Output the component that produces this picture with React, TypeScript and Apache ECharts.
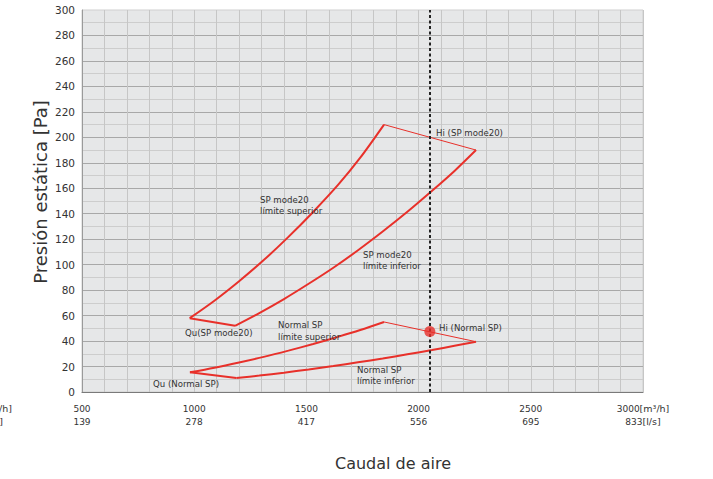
import React, { useEffect, useRef } from "react";
import * as echarts from "echarts";

// Airflow [m³/h] and static pressure [Pa]
const spSupQ = [980, 1090, 1200, 1310, 1420, 1530, 1640, 1740, 1846];
const spSupP = [58, 71.7, 87, 103.6, 121.8, 141.4, 162.4, 184, 210];
const spQuQ = [980, 1182];
const spQuP = [58, 52];
const spInfQ = [1182, 1290, 1400, 1510, 1620, 1730, 1840, 1950, 2060, 2160, 2256];
const spInfP = [52, 62, 73, 85, 97.6, 111.3, 126, 141.5, 158, 173.6, 190];
const spHiQ = [1846, 2256];
const spHiP = [210, 190];

const nSupQ = [981, 1090, 1200, 1310, 1420, 1530, 1640, 1740, 1846];
const nSupP = [15.5, 19.1, 23.2, 27.6, 32.5, 37.7, 43.3, 48.7, 55];
const nQuQ = [981, 1188];
const nQuP = [15.5, 11];
const nInfQ = [1188, 1290, 1400, 1510, 1620, 1730, 1840, 1950, 2060, 2160, 2256];
const nInfP = [11, 12.9, 15.2, 17.7, 20.4, 23.3, 26.3, 29.6, 33, 36.3, 39.5];
const nHiQ = [1846, 2256];
const nHiP = [55, 39.5];

const hiPointQ = [2050];
const hiPointP = [47.5];
const operatingQ = 2050;

const xTicks = [500, 1000, 1500, 2000, 2500, 3000];
const lsTicks = ["139", "278", "417", "556", "695", "833"];

const RED = "#e8302a";
const FONT = "DejaVu Sans";

const zip = (a: number[], b: number[]) => a.map((v, i) => [v, b[i]]);

export default function App() {
  const ref = useRef<HTMLDivElement>(null);
  useEffect(() => {
    document.body.style.margin = "0";
    const chart = echarts.init(ref.current!, null, { renderer: "svg" });
    const line = (name: string, q: number[], p: number[], w: number) => ({
      name,
      type: "line",
      data: zip(q, p),
      smooth: q.length > 2 ? 0.3 : false,
      showSymbol: false,
      symbol: "none",
      lineStyle: { color: RED, width: w },
      z: 3,
    });
    const ann = (text: string, x: number, y: number) => ({
      type: "text",
      x,
      y,
      style: { text, font: `8.6px "${FONT}"`, fill: "#333", textVerticalAlign: "middle" },
      z: 10,
    });
    chart.setOption({
      animation: false,
      textStyle: { fontFamily: FONT },
      grid: {
        left: 82,
        right: 70,
        top: 10,
        bottom: 87,
        show: true,
        backgroundColor: "#e6e7e8",
        borderColor: "#cfcfcf",
        borderWidth: 1,
      },
      xAxis: {
        type: "value",
        min: 500,
        max: 3000,
        interval: 500,
        axisLine: { show: true, lineStyle: { color: "#7a7a7a", width: 1.2 } },
        axisTick: { show: false },
        minorTick: { show: false, splitNumber: 5 },
        splitLine: { show: true, lineStyle: { color: "#c6c6c6", width: 1 } },
        minorSplitLine: { show: true, lineStyle: { color: "#c6c6c6", width: 1 } },
        axisLabel: {
          margin: 10,
          fontSize: 9,
          lineHeight: 13,
          color: "#333",
          fontFamily: FONT,
          showMinLabel: true,
          showMaxLabel: true,
          formatter: (v: number) => {
            const i = xTicks.indexOf(v);
            if (i < 0) return "";
            if (i === xTicks.length - 1) return `${v}{u|[m³/h]}\n${lsTicks[i]}{u|[l/s]}`;
            return `${v}\n${lsTicks[i]}`;
          },
          rich: { u: { fontSize: 9.5, color: "#333", fontFamily: FONT } },
        },
      },
      yAxis: {
        type: "value",
        min: 0,
        max: 300,
        interval: 20,
        axisLine: { show: true, lineStyle: { color: "#9a9a9a", width: 1 } },
        axisTick: { show: false },
        minorTick: { show: false, splitNumber: 2 },
        splitLine: { show: true, showMaxLine: false, lineStyle: { color: "#a8a8a8", width: 1 } },
        minorSplitLine: { show: true, lineStyle: { color: "#cdcdcd", width: 1 } },
        axisLabel: { margin: 7, fontSize: 10.5, color: "#333", fontFamily: FONT },
      },
      series: [
        line("SP mode20 límite superior", spSupQ, spSupP, 2),
        line("Qu(SP mode20)", spQuQ, spQuP, 2),
        line("SP mode20 límite inferior", spInfQ, spInfP, 2),
        line("Hi (SP mode20)", spHiQ, spHiP, 1),
        line("Normal SP límite superior", nSupQ, nSupP, 2),
        line("Qu (Normal SP)", nQuQ, nQuP, 2),
        line("Normal SP límite inferior", nInfQ, nInfP, 2),
        line("Hi (Normal SP)", nHiQ, nHiP, 1),
        {
          name: "Hi point",
          type: "scatter",
          data: zip(hiPointQ, hiPointP),
          symbolSize: 11,
          itemStyle: { color: RED },
          z: 5,
          markLine: {
            silent: true,
            symbol: "none",
            label: { show: false },
            lineStyle: { color: "#222", type: [3, 2.5], width: 2 },
            data: [{ xAxis: operatingQ }],
            z: 4,
          },
        },
      ],
      graphic: [
        ann("SP mode20", 260, 200),
        ann("límite superior", 260, 211),
        ann("SP mode20", 363, 255),
        ann("límite inferior", 363, 266),
        ann("Qu(SP mode20)", 185, 333),
        ann("Normal SP", 278, 325),
        ann("límite superior", 278, 337),
        ann("Qu (Normal SP)", 153, 384),
        ann("Normal SP", 357, 370),
        ann("límite inferior", 357, 381),
        ann("Hi (SP mode20)", 436, 133),
        ann("Hi (Normal SP)", 439, 328),
        {
          type: "text",
          x: 12,
          y: 408,
          style: { text: "[m³/h]", font: `9.5px "${FONT}"`, fill: "#333", textAlign: "right", textVerticalAlign: "middle" },
        },
        {
          type: "text",
          x: 3,
          y: 421,
          style: { text: "[l/s]", font: `9.5px "${FONT}"`, fill: "#333", textAlign: "right", textVerticalAlign: "middle" },
        },
        {
          type: "text",
          x: 40,
          y: 192,
          rotation: Math.PI / 2,
          style: { text: "Presión estática [Pa]", font: `18px "${FONT}"`, fill: "#333", textAlign: "center", textVerticalAlign: "middle" },
        },
        {
          type: "text",
          x: 393,
          y: 463,
          style: { text: "Caudal de aire", font: `16px "${FONT}"`, fill: "#333", textAlign: "center", textVerticalAlign: "middle" },
        },
      ],
    });
    return () => chart.dispose();
  }, []);
  return <div ref={ref} style={{ width: 713, height: 479 }} />;
}
